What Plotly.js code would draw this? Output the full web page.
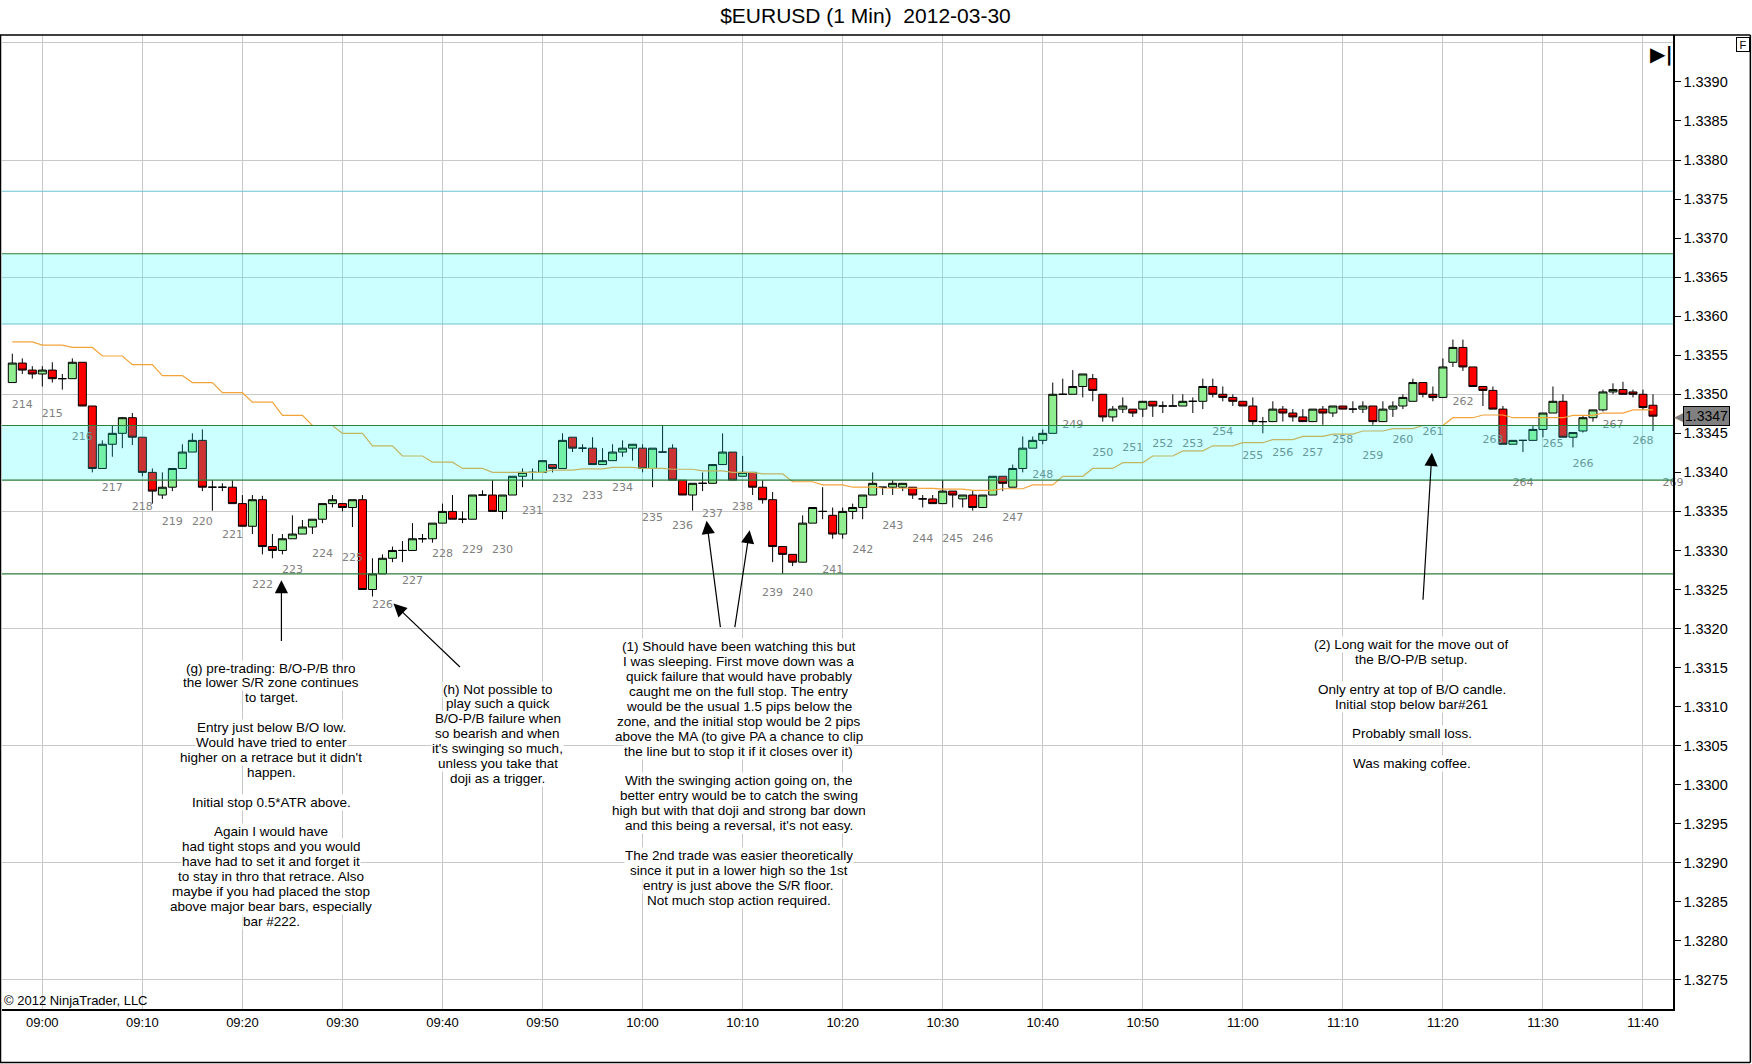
<!DOCTYPE html>
<html>
<head>
<meta charset="utf-8">
<script src="https://cdn.plot.ly/plotly-3.0.1.min.js"></script>
<style>html,body{margin:0;padding:0;background:#fff;}#chart{width:1752px;height:1064px;}</style>
</head>
<body>
<div id="chart"></div>
<script>
// ---- DATA (prices given in pips above 1.3300) ----
const BASE = 1.33, PIP = 0.0001;
const FIRST_BAR_MINUTE = -3; // first bar is 08:57 (minutes relative to 09:00)

const openPips = [
51.5,54.0,53.1,52.6,53.1,52.0,52.0,54.1,48.5,40.5,
43.6,45.0,47.0,44.5,40.0,37.1,38.1,40.5,42.6,44.1,
38.1,38.1,38.1,36.0,33.1,36.5,30.5,30.0,31.5,32.1,
33.0,34.0,36.0,36.0,35.5,36.5,25.0,27.0,29.0,30.0,
30.0,31.5,31.5,33.5,35.0,34.0,34.0,37.1,37.1,35.0,
37.1,39.5,40.0,40.0,41.0,40.5,44.5,43.1,43.1,41.0,
41.5,42.6,43.1,43.1,40.5,42.6,43.1,39.0,37.1,38.6,
38.6,41.0,42.6,39.5,40.0,38.1,36.5,30.5,29.5,28.5,
33.5,35.0,34.5,32.1,35.0,35.5,37.1,38.1,38.1,38.1,
38.1,36.6,36.6,36.0,37.6,36.6,37.1,35.5,37.1,39.5,
38.1,40.5,43.1,44.1,45.0,50.0,50.0,51.0,52.0,50.0,
47.1,48.1,48.1,48.1,49.1,48.5,48.5,48.5,49.1,49.1,
51.0,50.0,49.6,49.1,48.5,46.5,46.5,48.1,47.6,47.1,
46.5,48.1,47.6,48.5,48.1,48.1,48.5,46.5,48.1,48.5,
49.1,51.5,50.0,49.6,54.1,56.0,53.5,51.0,50.5,48.1,
43.6,44.1,44.1,45.5,47.6,49.1,44.5,45.3,47.0,48.0,50.3,50.6,50.3,50.0,48.6];

const highPips = [
55.2,54.6,53.6,53.6,54.1,52.6,54.6,54.1,48.5,44.1,
46.0,47.1,47.6,44.5,40.5,40.0,40.5,43.6,45.0,45.5,
39.0,38.6,39.0,37.1,37.1,37.0,32.1,32.1,34.5,33.9,
34.0,36.0,37.1,36.0,36.5,37.1,29.0,29.5,30.5,31.2,
33.5,32.1,33.5,36.0,37.1,35.0,37.1,37.7,39.0,37.1,
39.5,40.5,40.5,41.5,41.0,45.0,44.5,43.6,44.5,43.1,
43.6,44.1,43.6,43.6,43.1,46.0,43.6,39.0,38.6,40.0,
41.0,45.0,42.6,42.1,40.0,39.0,37.5,30.5,29.5,34.5,
35.5,38.1,35.5,35.5,36.0,37.1,40.0,38.1,39.0,38.6,
38.1,37.1,37.1,39.0,37.6,37.1,37.6,37.1,39.5,39.5,
41.0,44.6,44.6,45.5,51.5,52.0,53.1,52.6,52.6,50.0,
48.5,49.6,48.1,49.1,49.1,49.1,50.0,50.0,49.6,52.0,
52.0,51.0,50.0,49.1,49.6,47.1,49.1,48.5,48.1,48.1,
48.1,48.5,48.5,48.5,49.1,49.1,48.5,49.1,49.1,50.0,
52.0,51.5,51.0,54.6,57.0,57.0,53.5,51.0,51.0,48.5,
44.1,44.1,46.0,47.6,51.0,50.0,45.1,47.2,48.0,50.6,51.4,51.6,50.6,50.6,50.0];

const lowPips = [
51.5,52.6,52.0,51.0,51.5,50.6,52.0,48.5,40.0,40.5,
42.0,43.1,43.5,39.5,36.0,36.6,37.6,40.5,42.6,37.6,
35.1,37.6,36.0,33.1,32.1,29.5,29.0,29.5,31.5,32.1,
32.1,33.5,35.5,35.0,33.0,25.0,24.1,27.0,28.5,28.5,
30.0,31.0,31.0,33.5,34.0,33.5,34.0,37.1,35.0,34.0,
37.1,38.1,39.0,40.0,40.0,40.5,42.6,42.6,41.0,41.0,
41.5,42.0,41.5,40.0,38.1,42.6,39.0,37.1,35.1,37.6,
38.6,41.0,39.0,39.5,37.1,36.0,28.5,27.0,28.0,28.5,
33.5,34.0,31.5,31.5,34.0,34.0,37.1,37.1,37.1,37.6,
36.6,35.5,36.0,36.0,35.5,35.5,35.1,35.5,37.1,37.6,
38.1,40.0,43.1,43.6,45.0,50.0,50.0,49.6,49.1,46.5,
46.5,47.6,47.1,47.1,47.1,47.6,48.5,48.5,47.6,48.1,
49.6,49.1,48.5,48.5,46.1,45.0,46.5,46.5,46.5,46.5,
46.5,46.1,47.1,48.1,47.6,47.6,46.1,46.5,47.1,48.1,
49.1,49.6,49.1,49.6,53.5,53.0,51.0,48.5,48.1,43.6,
43.6,42.6,44.1,44.5,47.6,44.5,43.2,45.1,46.5,47.8,50.0,50.0,49.6,48.0,45.3];

const closePips = [
54.0,53.1,52.6,53.1,52.0,52.0,54.1,48.5,40.5,43.6,
45.0,47.0,44.5,40.0,37.6,38.1,40.5,42.6,44.1,38.1,
38.1,38.1,36.0,33.1,36.5,30.5,30.0,31.5,32.1,33.0,
34.0,36.0,36.5,35.5,36.5,25.0,27.0,29.0,30.0,30.0,
31.5,31.5,33.5,35.0,34.0,34.0,37.1,37.1,35.0,37.1,
39.5,40.0,40.0,41.5,40.5,44.1,43.1,43.1,41.0,41.5,
42.6,43.1,43.6,40.5,43.1,42.6,39.0,37.1,38.6,38.6,
41.0,42.6,39.0,40.0,38.1,36.5,30.5,29.5,28.5,33.5,
35.5,35.0,32.1,35.0,35.5,37.1,38.6,38.1,38.6,38.6,
37.1,36.6,36.0,37.6,37.1,37.1,35.5,37.1,39.5,38.6,
40.5,43.1,44.1,45.0,50.0,50.0,51.0,52.6,50.5,47.1,
48.1,48.5,47.6,49.1,48.5,48.5,48.5,49.1,49.1,51.0,
50.0,49.6,49.1,48.5,46.5,46.5,48.1,47.6,47.1,46.5,
48.1,47.6,48.5,48.1,48.1,48.5,46.5,48.1,48.5,49.6,
51.5,50.0,49.6,53.5,56.0,53.5,51.0,50.5,48.1,43.6,
44.1,44.1,45.5,47.6,49.1,44.5,45.1,47.0,48.0,50.3,50.6,50.0,50.0,48.3,47.2];

// moving average (orange line), pips above 1.3300, one value per bar
const maPips = [
56.7,56.7,56.7, 56.3,56.3,56.3, 56.0,56.0,56.0, 54.9,54.9,54.9, 53.8,53.8,53.8,
52.4,52.4,52.4, 51.5,51.5,51.5, 50.2,50.2,50.2, 49.0,49.0,49.0, 47.3,47.3,47.3,
46.0,46.0,46.0, 45.0,45.0,45.0, 43.4,43.4,43.4, 42.1,42.1,42.1, 41.3,41.3,41.3,
40.5,40.5,40.5, 40.0,40.0,40.0, 40.0,40.0,40.0, 40.3,40.3,40.3, 40.45,40.45,40.45,
40.65,40.65,40.65, 40.5,40.5,40.5, 40.4,40.4,40.4, 40.2,40.2,40.2, 40.0,40.0,40.0,
39.8,39.8,39.8, 38.8,38.8,38.8, 38.4,38.4,38.4, 38.1,38.1,38.1, 38.0,38.0,38.0,
37.95,37.95,37.95, 37.85,37.85,37.85, 37.7,37.7,37.7, 37.9,37.9,37.9, 38.4,38.4,38.4,
39.5,39.5,39.5, 40.5,40.5,40.5, 41.25,41.25,41.25, 42.1,42.1,42.1, 42.75,42.75,42.75,
43.4,43.4,43.4, 43.8,43.8,43.8, 44.2,44.2,44.2, 44.6,44.6,44.6, 44.9,44.9,44.9,
45.3,45.3,45.3, 45.6,45.6,45.6, 46.0,46.0,46.0, 47.0,47.0,47.0, 47.35,47.35,47.35,
47.0,47.0,47.0, 47.0,47.0,47.0, 47.3,47.3,47.3, 47.6,47.6,47.6, 48.0,48.0,48.0];

// bar-number labels: first label sits on bar index 1, then every 3rd bar
const barLabelNumbers = [214,215,216,217,218,219,220,221,222,223,224,225,226,227,228,229,230,
231,232,233,234,235,236,237,238,239,240,241,242,243,244,245,246,247,248,249,250,251,252,253,
254,255,256,257,258,259,260,261,262,263,264,265,266,267,268,269];
const FIRST_LABEL_BAR = 1, LABEL_STEP = 3;
const PENDING_LABEL_PRICE = 1.33386; // label of the bar not yet formed (#269)

const tickLabels = ['09:00','09:10','09:20','09:30','09:40','09:50','10:00','10:10','10:20',
'10:30','10:40','10:50','11:00','11:10','11:20','11:30','11:40'];
const priceTicks = [1.3275,1.3280,1.3285,1.3290,1.3295,1.3300,1.3305,1.3310,1.3315,1.3320,1.3325,
1.3330,1.3335,1.3340,1.3345,1.3350,1.3355,1.3360,1.3365,1.3370,1.3375,1.3380,1.3385,1.3390];

// support / resistance levels
const upperZone = [1.3359, 1.3368];
const lowerZone = [1.3339, 1.3346];
const upperLine = 1.3376;
const floorLine = 1.3327;

const noteG = "(g) pre-trading: B/O-P/B thro<br>the lower S/R zone continues<br>to target.<br><br>Entry just below B/O low.<br>Would have tried to enter<br>higher on a retrace but it didn't<br>happen.<br><br>Initial stop 0.5*ATR above.<br><br>Again I would have<br>had tight stops and you would<br>have had to set it and forget it<br>to stay in thro that retrace. Also<br>maybe if you had placed the stop<br>above major bear bars, especially<br>bar #222.";
const noteH = "(h) Not possible to<br>play such a quick<br>B/O-P/B failure when<br>so bearish and when<br>it's swinging so much,<br>unless you take that<br>doji as a trigger.";
const note1 = "(1) Should have been watching this but<br>I was sleeping. First move down was a<br>quick failure that would have probably<br>caught me on the full stop. The entry<br>would be the usual 1.5 pips below the<br>zone, and the initial stop would be 2 pips<br>above the MA (to give PA a chance to clip<br>the line but to stop it if it closes over it)<br><br>With the swinging action going on, the<br>better entry would be to catch the swing<br>high but with that doji and strong bar down<br>and this being a reversal, it's not easy.<br><br>The 2nd trade was easier theoretically<br>since it put in a lower high so the 1st<br>entry is just above the S/R floor.<br>Not much stop action required.";
const note2 = "(2) Long wait for the move out of<br>the B/O-P/B setup.<br><br>Only entry at top of B/O candle.<br>Initial stop below bar#261<br><br>Probably small loss.<br><br>Was making coffee.";

// ---- BUILD ----
const W = 1752, H = 1064, M = {l:2, r:79.4, t:34.6, b:55};
const YR = [1.327128, 1.339601];
const pricePerPx = (YR[1] - YR[0]) / (H - M.t - M.b);

const toPrice = p => +(BASE + p * PIP).toFixed(6);
const open = openPips.map(toPrice), high = highPips.map(toPrice),
      low = lowPips.map(toPrice), close = closePips.map(toPrice), ma = maPips.map(toPrice);
const xs = open.map((_, i) => FIRST_BAR_MINUTE + i);
const toMin = s => { const [h, m] = s.split(':').map(Number); return (h - 9) * 60 + m; };

const lastBar = open.length - 1;
const lblX = [], lblY = [];
barLabelNumbers.forEach((n, k) => {
  const bi = FIRST_LABEL_BAR + LABEL_STEP * k;
  lblX.push(FIRST_BAR_MINUTE + bi);
  lblY.push(bi <= lastBar ? low[bi] - 4 * PIP : PENDING_LABEL_PRICE);
});

const FONT = 'Liberation Sans, Arial, sans-serif';
const traces = [
  {type:'scatter', mode:'lines', x:[xs[0]], y:[YR[0]], yaxis:'y2', line:{width:0}, hoverinfo:'skip'},
  {type:'scatter', mode:'lines', x:xs, y:ma, line:{color:'#f2a43a', width:1.2}, hoverinfo:'skip'},
  {type:'candlestick', x:xs, open, high, low, close, whiskerwidth:0, hoverinfo:'skip',
   increasing:{fillcolor:'#90ee90', line:{color:'#000', width:1}},
   decreasing:{fillcolor:'#ff0000', line:{color:'#000', width:1}}},
  {type:'scatter', mode:'text', x:lblX, y:lblY, text:barLabelNumbers.map(String), cliponaxis:false,
   textfont:{family:'DejaVu Sans, Verdana, sans-serif', size:11, color:'#808080'}, hoverinfo:'skip'}
];

const zoneShape = (z) => ({type:'rect', xref:'paper', x0:0, x1:1, yref:'y', y0:z[0], y1:z[1],
  fillcolor:'rgba(0,255,255,0.2)', line:{width:0}, layer:'above'});
const hline = (y, color) => ({type:'line', xref:'paper', x0:0, x1:1, yref:'y', y0:y, y1:y,
  line:{color, width:1.2}, layer:'above'});
const GREEN = '#2f7d3a', TEAL = '#6cc3d5';

const shapes = [
  zoneShape(upperZone), zoneShape(lowerZone),
  hline(upperZone[1], GREEN), hline(upperZone[0], TEAL), hline(upperLine, TEAL),
  hline(lowerZone[1], GREEN), hline(lowerZone[0], GREEN), hline(floorLine, GREEN),
  {type:'line', xref:'paper', yref:'paper', x0:-0.0012, x1:1.0463, y0:1, y1:1, line:{color:'#000', width:1.5}},
  {type:'line', xref:'paper', yref:'paper', x0:-0.0009, x1:-0.0009, y0:-0.0549, y1:1, line:{color:'#000', width:1.5}},
  {type:'line', xref:'paper', yref:'paper', x0:1.0463, x1:1.0463, y0:-0.0549, y1:1, line:{color:'#000', width:1.5}},
  {type:'line', xref:'paper', yref:'paper', x0:-0.0012, x1:1.0463, y0:-0.0549, y1:-0.0549, line:{color:'#000', width:1.5}}
];

// each note line is placed separately to reproduce the tight line spacing;
// white boxes are drawn first, the text afterwards, so no box hides a descender
const NOTE_FONT = 13.5, LINE_PX = 14.9;
const noteLines = (text, x, top, boxes) => text.split('<br>').map((line, k) => line ? ({
  text:line, x, y: top - (k + 0.5) * LINE_PX * pricePerPx, xref:'x', yref:'y',
  xanchor:'center', yanchor:'middle', showarrow:false, height:LINE_PX, borderpad:0,
  bgcolor: boxes ? '#fff' : 'rgba(0,0,0,0)',
  font:{family:FONT, size:NOTE_FONT, color: boxes ? 'rgba(0,0,0,0)' : '#000'}}) : null).filter(Boolean);
const notes = [[noteG, 22.9, 1.33159], [noteH, 45.5, 1.33132], [note1, 69.6, 1.33186], [note2, 136.9, 1.33189]];
const arrow = (x, y, ax, ay) => ({text:'', x, y, ax, ay, xref:'x', yref:'y', axref:'x', ayref:'y',
  showarrow:true, arrowhead:2, arrowsize:2.2, arrowwidth:1.2, arrowcolor:'#000', standoff:0});

const annotations = [
  ...notes.flatMap(n => noteLines(n[0], n[1], n[2], true)),
  ...notes.flatMap(n => noteLines(n[0], n[1], n[2], false)),
  arrow(23.9, 1.33262, 23.9, 1.33182),
  arrow(35.1, 1.33232, 41.9, 1.33149),
  arrow(66.4, 1.33338, 67.8, 1.33200),
  arrow(70.7, 1.33326, 69.2, 1.33200),
  arrow(138.9, 1.33425, 138.0, 1.33235),
  {text:'© 2012 NinjaTrader, LLC', xref:'paper', yref:'paper', x:0.0, y:0.0092, xanchor:'left', yanchor:'middle',
   showarrow:false, font:{family:FONT, size:13, color:'#000'}},
  {text:'◀', xref:'paper', yref:'y', x:1.0, y:close[lastBar], xanchor:'left', yanchor:'middle', xshift:-1,
   showarrow:false, font:{family:'DejaVu Sans', size:13, color:'#7f7f7f'}},
  {text:close[lastBar].toFixed(4), xref:'paper', yref:'y', x:1.0, y:close[lastBar], xanchor:'left', yanchor:'middle', xshift:10,
   showarrow:false, bgcolor:'#808080', bordercolor:'#000', borderwidth:1, borderpad:1, font:{family:FONT, size:14, color:'#000'}},
  {text:'F', xref:'paper', yref:'paper', x:1.0416, y:0.990, xanchor:'center', yanchor:'middle', width:12, height:13,
   showarrow:false, bgcolor:'#fff', bordercolor:'#000', borderwidth:1, borderpad:0, font:{family:FONT, size:11, color:'#000'}},
  {text:'<b>▶|</b>', xref:'paper', yref:'paper', x:0.993, y:0.980, xanchor:'center', yanchor:'middle',
   showarrow:false, font:{family:'DejaVu Sans', size:20, color:'#000'}}
];

const layout = {
  width:W, height:H, paper_bgcolor:'#fff', plot_bgcolor:'#fff', showlegend:false,
  margin:M, boxgap:0.2, boxgroupgap:0,
  title:{text:'$EURUSD (1 Min)\u00a0 2012-03-30', x:0.494, xref:'container', xanchor:'center',
         y:0.9853, yref:'container', yanchor:'middle', font:{family:FONT, size:21, color:'#000'}},
  xaxis:{range:[-4.03, 163.0], tickvals:tickLabels.map(toMin), ticktext:tickLabels, ticks:'',
         showgrid:true, gridcolor:'#c8c8c8', gridwidth:1, zeroline:false, showline:true, linecolor:'#000', linewidth:2,
         tickfont:{family:FONT, size:13, color:'#000'}, rangeslider:{visible:false}, fixedrange:true, automargin:false},
  yaxis:{range:YR, side:'right', tickmode:'array', tickvals:priceTicks, ticktext:priceTicks.map(v => v.toFixed(4)),
         ticks:'outside', ticklen:6, tickcolor:'#000', showgrid:false, zeroline:false, showline:true,
         linecolor:'#000', linewidth:1.5, tickfont:{family:FONT, size:14.5, color:'#000'}, fixedrange:true, automargin:false},
  yaxis2:{range:YR, overlaying:'y', side:'right', tick0:1.3275, dtick:0.0015, showticklabels:false, ticks:'',
          showgrid:true, gridcolor:'#c8c8c8', gridwidth:1, zeroline:false, showline:false, fixedrange:true, automargin:false},
  shapes, annotations
};

Plotly.newPlot('chart', traces, layout, {staticPlot:true, displayModeBar:false});
</script>
</body>
</html>
